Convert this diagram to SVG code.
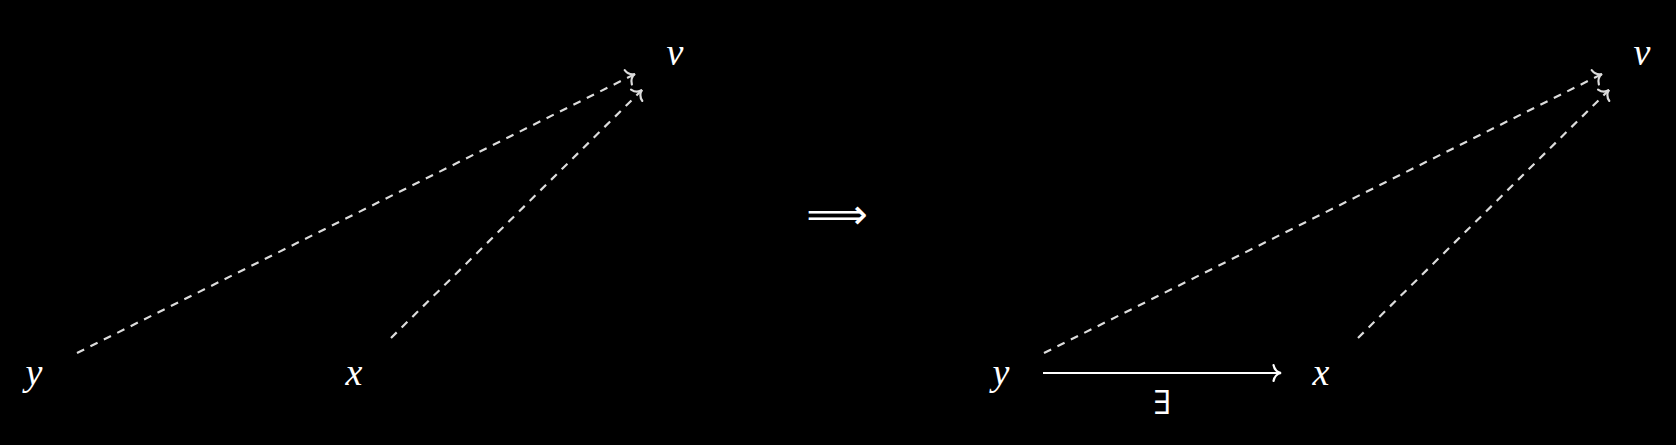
<svg xmlns="http://www.w3.org/2000/svg" width="1676" height="445" viewBox="0 0 1676 445">
<style>
.lbl{font-family:"Liberation Serif",serif;font-style:italic;font-size:38px;fill:#ffffff;text-anchor:middle}
.dash{stroke:#dcdcdc;stroke-width:2.2;stroke-dasharray:8 7;fill:none}
.solid{stroke:#ffffff;stroke-width:2.2;fill:none}
</style>
<defs>
<marker id="hd" markerUnits="userSpaceOnUse" viewBox="-12 -10 14 20" markerWidth="14" markerHeight="20" refX="0" refY="0" orient="auto">
<path d="M-7.5,-8 C-6.5,-3 -3,-0.6 0,0 C-3,0.6 -6.5,3 -7.5,8" stroke="#dcdcdc" stroke-width="2.2" fill="none" stroke-linecap="round"/>
</marker>
<marker id="hs" markerUnits="userSpaceOnUse" viewBox="-12 -10 14 20" markerWidth="14" markerHeight="20" refX="0" refY="0" orient="auto">
<path d="M-7.5,-8 C-6.5,-3 -3,-0.6 0,0 C-3,0.6 -6.5,3 -7.5,8" stroke="#ffffff" stroke-width="2.2" fill="none" stroke-linecap="round"/>
</marker>
</defs>
<rect width="1676" height="445" fill="#000000"/>
<g id="connectors">
<line class="dash" x1="77" y1="353" x2="635" y2="74" marker-end="url(#hd)"/>
<line class="dash" x1="391" y1="338" x2="642" y2="90" marker-end="url(#hd)"/>
<line class="dash" x1="1044" y1="353" x2="1602" y2="74" marker-end="url(#hd)"/>
<line class="dash" x1="1358" y1="338" x2="1609" y2="90" marker-end="url(#hd)"/>
<line class="solid" x1="1043" y1="373" x2="1281" y2="373" marker-end="url(#hs)"/>
</g>
<g id="node-y1"><text class="lbl" x="34" y="385">y</text></g>
<g id="node-x1"><text class="lbl" x="354" y="385">x</text></g>
<g id="node-v1"><text class="lbl" x="675" y="65">v</text></g>
<g id="node-implies"><text x="837" y="229" font-family="DejaVu Sans, sans-serif" font-size="43" fill="#ffffff" text-anchor="middle">⟹</text></g>
<g id="node-y2"><text class="lbl" x="1001" y="385">y</text></g>
<g id="node-x2"><text class="lbl" x="1321" y="385">x</text></g>
<g id="node-v2"><text class="lbl" x="1642" y="65">v</text></g>
<g id="label-exists"><text x="1162" y="414" font-family="DejaVu Serif, serif" font-size="33" fill="#ffffff" text-anchor="middle">∃</text></g>
</svg>
